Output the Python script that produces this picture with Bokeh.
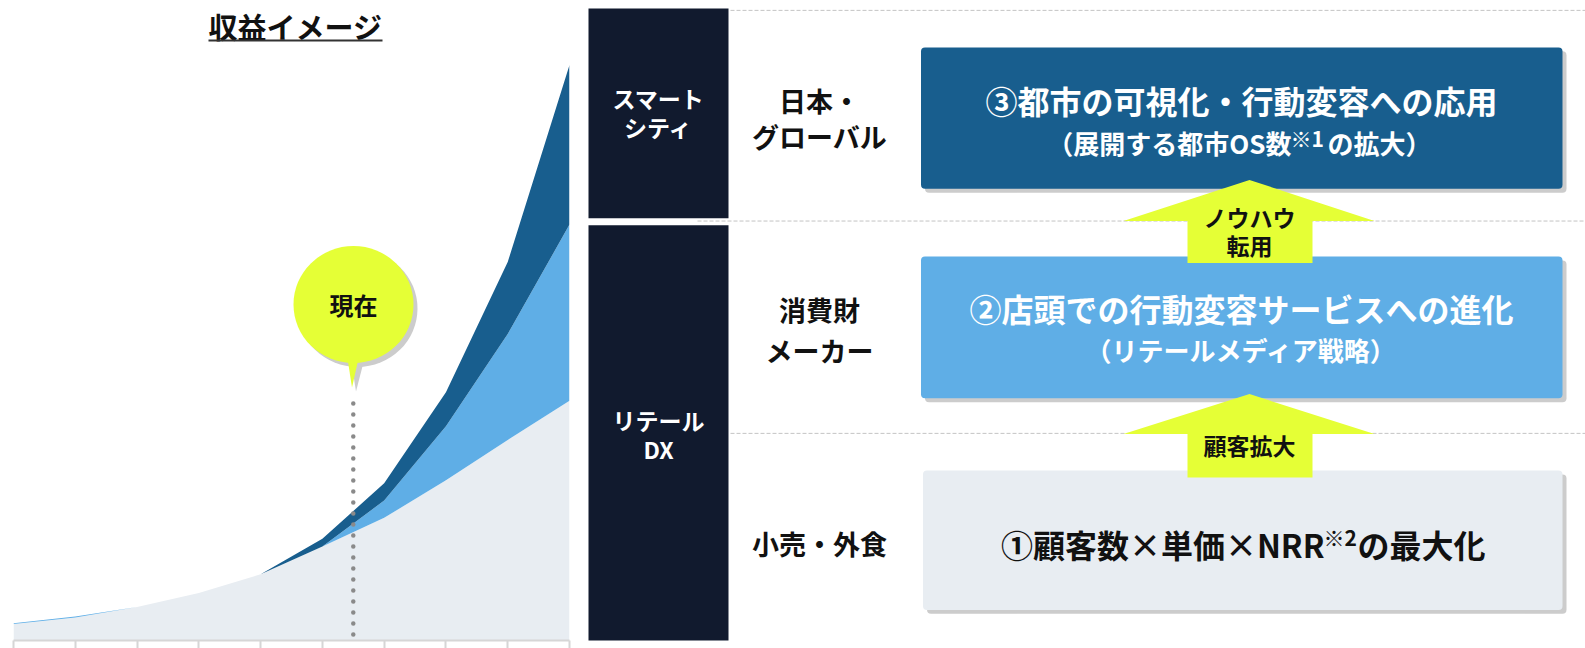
from bokeh.plotting import figure
from bokeh.models import Range1d, LinearAxis, FixedTicker, ColumnDataSource, CustomJSTickFormatter
from bokeh.layouts import row
from bokeh.core.properties import value
from bokeh.embed import file_html
from bokeh.resources import INLINE

# ---------------- data ----------------
periods = list(range(10))                      # time steps along x (unlabelled)
retail_dx = [2.85, 4.0, 5.8, 8.25, 11.5, 16.3, 21.3, 27.8, 34.8, 41.6]   # ① retail / food service
retail_media = [0.15, 0.15, 0, 0, 0, 0, 3.0, 9.4, 18.4, 30.6]           # ② consumer goods makers
smart_city = [0, 0, 0, 0, 0, 1.35, 3.0, 5.9, 12.5, 27.7]                # ③ smart city
now_x = 5.5
chart_title = "収益イメージ"
now_label = "現在"

sector_labels = ["スマート\nシティ", "リテール\nDX"]
segment_labels = ["日本・\nグローバル", "消費財\nメーカー", "小売・外食"]
box_titles = ["③都市の可視化・行動変容への応用", "②店頭での行動変容サービスへの進化", "①顧客数×単価×NRR※2の最大化"]
box_subtitles = ["（展開する都市OS数※1の拡大）", "（リテールメディア戦略）", ""]
arrow_labels = ["ノウハウ\n転用", "顧客拡大"]

FONT = value("Noto Sans CJK JP")
NAVY = "#111A2E"
DARK = "#185E8E"
LIGHT = "#5FAEE6"
PALE = "#E8EDF2"
YEL = "#E5FF36"
SHADOW = "#CCCCCC"

H = 648

# ---------------- left: revenue image chart ----------------
L = figure(width=586, height=H, x_range=Range1d(0, 9), y_range=Range1d(0, 111.1),
           output_backend="svg", toolbar_location=None, x_axis_type=None, y_axis_type=None,
           min_border_left=13, min_border_right=17, min_border_top=0, min_border_bottom=8,
           outline_line_color=None)
src = ColumnDataSource(dict(x=periods, retail=retail_dx, media=retail_media, city=smart_city))
L.varea_stack(stackers=["retail", "media", "city"], x="x", color=[PALE, LIGHT, DARK], source=src)

ax = LinearAxis(ticker=FixedTicker(ticks=periods),
                formatter=CustomJSTickFormatter(code="return ''"),
                major_label_text_font_size="0px", major_label_standoff=0,
                axis_line_color="#D6D6D6", axis_line_width=2,
                major_tick_line_color="#D6D6D6", major_tick_line_width=2,
                major_tick_in=0, major_tick_out=8, minor_tick_line_color=None)
L.add_layout(ax, "below")

# pixel ranges for decorations (page coordinates)
L.extra_x_ranges = {"px": Range1d(13, 569)}
L.extra_y_ranges = {"py": Range1d(640, 0)}

# dotted "now" line
L.line(x=[now_x, now_x], y=[403, 660], y_range_name="py", line_color="#8A8A8A",
       line_width=4.5, line_dash="0 11", line_cap="round")

# speech bubble
bx, by = 353, 304
L.ellipse(x=[bx + 4], y=[by + 4], width=120, height=117, x_range_name="px", y_range_name="py",
          fill_color=SHADOW, line_color=None)
L.patch(x=[bx - 2, bx + 10, bx + 2.5], y=[by + 58, by + 58, by + 87], x_range_name="px",
        y_range_name="py", fill_color=SHADOW, line_color=None)
L.ellipse(x=[bx], y=[by], width=120, height=117, x_range_name="px", y_range_name="py",
          fill_color=YEL, line_color=None)
L.patch(x=[bx - 6, bx + 5, bx - 1.5], y=[by + 54, by + 54, by + 83], x_range_name="px",
        y_range_name="py", fill_color=YEL, line_color=None)
L.text(x=[bx], y=[by], text=[now_label], x_range_name="px", y_range_name="py",
       text_font=FONT, text_font_style="bold", text_font_size="24px", text_color="#111111",
       text_align="center", text_baseline="middle")

# title with underline
L.text(x=[295], y=[25], text=[chart_title], x_range_name="px", y_range_name="py",
       text_font=FONT, text_font_style="bold", text_font_size="29px", text_color="#111111",
       text_align="center", text_baseline="middle")
L.segment(x0=[208], x1=[382], y0=[40], y1=[40], x_range_name="px", y_range_name="py",
          line_color="#333333", line_width=2)

# ---------------- right: strategy diagram ----------------
R = figure(width=999, height=H, x_range=Range1d(586, 1585), y_range=Range1d(H, 0),
           output_backend="svg", toolbar_location=None, x_axis_type=None, y_axis_type=None,
           min_border=0, outline_line_color=None)

# dashed separators
R.segment(x0=[730, 697, 730], x1=[1590, 1590, 1590], y0=[10, 223.3, 438.3], y1=[10, 223.3, 438.3],
          line_color="#C4C4C4", line_width=1, line_dash="4 2")

# navy sector blocks
R.quad(left=[588, 588], right=[728, 728], top=[8, 227.5], bottom=[220.5, 660],
       fill_color=NAVY, line_color=None)
sector_y = [[99, 128.5], [424.5, 454]]
for lab, ys in zip(sector_labels, sector_y):
    R.text(x=[658] * len(ys), y=ys, text=lab.split("\n"), text_font=FONT, text_font_style="bold",
           text_font_size="23px", text_color="white", text_align="center", text_baseline="middle")

# segment labels
seg_y = [[101, 138], [313, 354], [550]]
for lab, ys in zip(segment_labels, seg_y):
    R.text(x=[819] * len(ys), y=ys, text=lab.split("\n"), text_font=FONT, text_font_style="bold",
           text_font_size="27px", text_color="#111111", text_align="center", text_baseline="middle")

# boxes with shadows
bl = [920.5, 920.5, 922.5]
br = [1562, 1562, 1562]
bt = [47.5, 259.3, 476]
bb = [190.7, 402.7, 617]
R.quad(left=[v + 4 for v in bl], right=[v + 4 for v in br], top=[v + 4 for v in bt],
       bottom=[v + 4 for v in bb], fill_color=SHADOW, line_color=None, border_radius=4)
R.quad(left=bl, right=br, top=bt, bottom=bb, fill_color=[DARK, LIGHT, PALE], line_color=None,
       border_radius=4)

# arrows
def arrow(tip, base, foot):
    return ([1123, 1249, 1374, 1312, 1312, 1187, 1187], [base, tip, base, base, foot, foot, base])

ax1, ay1 = arrow(181.7, 223.3, 265.7)
ax2, ay2 = arrow(398.5, 439, 483)
R.patches(xs=[ax1, ax2], ys=[ay1, ay2], fill_color=YEL, line_color=None)
arrow_y = [[219.3, 247.3], [450.5]]
for lab, ys in zip(arrow_labels, arrow_y):
    R.text(x=[1249] * len(ys), y=ys, text=lab.split("\n"), text_font=FONT, text_font_style="bold",
           text_font_size="23px", text_color="#111111", text_align="center", text_baseline="middle")

# box texts
title_y = [101, 311, 550.5]
sub_y = [143.3, 353]
text_colors = ["white", "white", "#111111"]
# anchors for superscript notes (left edge of "※n", left edge of following text, sup centre y)
sup_anchor = {0: (1291, 1327, 139), 2: (1324, 1357, 543)}

def place(i, s, y, size):
    col = text_colors[i]
    if "※" in s:
        pre, rest = s.split("※")
        sup = "※" + rest[0]
        post = rest[1:]
        a0, a1, sy = sup_anchor[i]
        R.text(x=[a0], y=[y], text=[pre], text_font=FONT, text_font_style="bold",
               text_font_size=size, text_color=col, text_align="right", text_baseline="middle")
        R.text(x=[a0 - 1], y=[sy], text=[sup], text_font=FONT, text_font_style="bold",
               text_font_size="21px", text_color=col, text_align="left", text_baseline="middle")
        R.text(x=[a1], y=[y], text=[post], text_font=FONT, text_font_style="bold",
               text_font_size=size, text_color=col, text_align="left", text_baseline="middle")
    else:
        R.text(x=[1241], y=[y], text=[s], text_font=FONT, text_font_style="bold",
               text_font_size=size, text_color=col, text_align="center", text_baseline="middle")

for i, t in enumerate(box_titles):
    place(i, t, title_y[i], "32px")
for i, s in enumerate(box_subtitles):
    if s:
        place(i, s, sub_y[i], "26px")

layout = row(L, R)
open("out.html", "w").write(file_html(layout, INLINE))
